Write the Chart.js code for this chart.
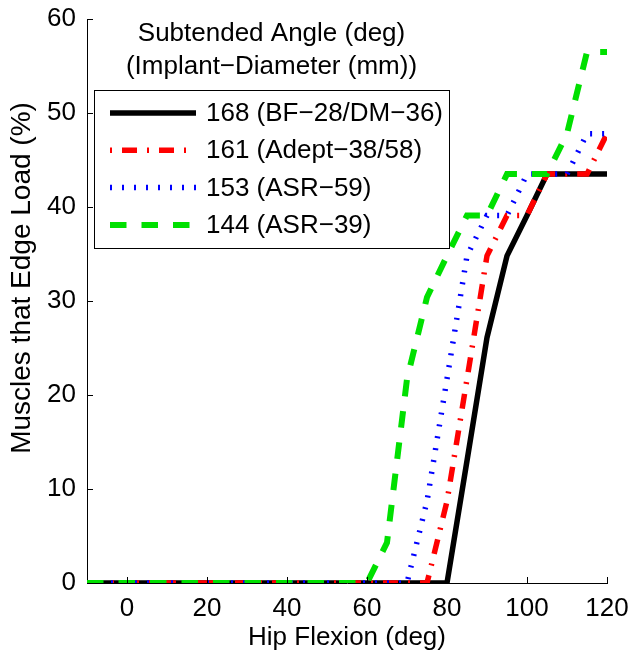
<!DOCTYPE html>
<html>
<head>
<meta charset="utf-8">
<script src="https://cdn.jsdelivr.net/npm/chart.js@4"></script>
<style>
  body { margin: 0; background: #fff; }
  canvas { display: block; }
</style>
</head>
<body>
<canvas id="chart" width="629" height="651"></canvas>
<script>
// hip flexion angle (deg), sampled every 5 deg
const hipFlexion = [-10, -5, 0, 5, 10, 15, 20, 25, 30, 35, 40, 45, 50, 55,
  60, 65, 70, 75, 80, 85, 90, 95, 100, 105, 110, 115, 120];

// % of muscles that edge load, one array per implant
const angle168 = [0, 0, 0, 0, 0, 0, 0, 0, 0, 0, 0, 0, 0, 0,
  0, 0, 0, 0, 0, 13.0, 26.1, 34.8, 39.1, 43.5, 43.5, 43.5, 43.5];
const angle161 = [0, 0, 0, 0, 0, 0, 0, 0, 0, 0, 0, 0, 0, 0,
  0, 0, 0, 0, 8.7, 21.7, 34.8, 39.1, 39.1, 43.5, 43.5, 43.5, 47.8];
const angle153 = [0, 0, 0, 0, 0, 0, 0, 0, 0, 0, 0, 0, 0, 0,
  0, 0, 0, 8.7, 21.7, 34.8, 39.1, 39.1, 43.5, 43.5, 43.5, 47.8, 47.8];
const angle144 = [0, 0, 0, 0, 0, 0, 0, 0, 0, 0, 0, 0, 0, 0,
  0, 4.3, 21.7, 30.4, 34.8, 39.1, 39.1, 43.5, 43.5, 43.5, 47.8, 56.5, 56.5];

const seriesLabels = ["168 (BF\u221228/DM\u221236)", "161 (Adept\u221238/58)", "153 (ASR\u221259)", "144 (ASR\u221239)"];
const legendTitle = ["Subtended Angle (deg)", "(Implant\u2212Diameter (mm))"];
const xTitle = "Hip Flexion (deg)";
const yTitle = "Muscles that Edge Load (%)";
const xTicks = [0, 20, 40, 60, 80, 100, 120];
const yTicks = [0, 10, 20, 30, 40, 50, 60];

const FONT = "'Liberation Sans', Arial, Helvetica, sans-serif";
Chart.defaults.font.family = FONT;
Chart.defaults.color = "#000";

const seriesValues = [angle168, angle161, angle153, angle144];
const lineStyles = [
  { color: "#000000", width: 5.5, dash: [], order: 4 },
  { color: "#ff0000", width: 5.5, dash: [15, 10, 2, 10], order: 3 },
  { color: "#0000ff", width: 5.5, dash: [2, 10], order: 2 },
  { color: "#00e000", width: 6, dash: [16.5, 15], order: 1 },
];

const datasets = seriesValues.map((vals, i) => ({
  label: seriesLabels[i],
  data: hipFlexion.map((x, j) => ({ x: x, y: vals[j] })),
  borderColor: lineStyles[i].color,
  borderWidth: lineStyles[i].width,
  borderDash: lineStyles[i].dash,
  borderCapStyle: "butt",
  borderJoinStyle: "miter",
  pointRadius: 0,
  tension: 0,
  fill: false,
  order: lineStyles[i].order,
}));

// matlab style ticks pointing into the plot
const insideTicks = {
  id: "insideTicks",
  afterDraw(chart) {
    const { ctx, chartArea: a, scales } = chart;
    ctx.save();
    ctx.strokeStyle = "#000";
    ctx.lineWidth = 1;
    ctx.beginPath();
    xTicks.forEach((v) => {
      const px = Math.round(scales.x.getPixelForValue(v)) + 0.5;
      ctx.moveTo(px, a.bottom);
      ctx.lineTo(px, a.bottom - 6);
    });
    yTicks.forEach((v) => {
      const py = Math.round(scales.y.getPixelForValue(v)) + 0.5;
      ctx.moveTo(a.left, py);
      ctx.lineTo(a.left + 6, py);
    });
    ctx.stroke();

    // y label sits a bit above the middle of the axis in the original
    ctx.font = "28px " + FONT;
    ctx.fillStyle = "#000";
    ctx.textAlign = "center";
    ctx.textBaseline = "middle";
    ctx.translate(22, a.top + 259);
    ctx.rotate(-Math.PI / 2);
    ctx.fillText(yTitle, 0, 0);
    ctx.restore();
  },
};

// legend box with its title sitting above it
const boxedLegend = {
  id: "boxedLegend",
  afterDraw(chart) {
    const { ctx, chartArea: a } = chart;
    const left = a.left + 7, top = a.top + 71, w = 355, h = 158;
    ctx.save();
    ctx.font = "26px " + FONT;
    ctx.fillStyle = "#000";
    ctx.textAlign = "center";
    ctx.textBaseline = "middle";
    legendTitle.forEach((t, i) => ctx.fillText(t, left + w / 2, a.top + 15 + i * 33));

    ctx.fillStyle = "#fff";
    ctx.fillRect(left, top, w, h);
    ctx.strokeStyle = "#000";
    ctx.lineWidth = 1;
    ctx.strokeRect(left + 0.5, top + 0.5, w, h);

    chart.data.datasets.forEach((ds, i) => {
      const yy = top + 23 + i * 37.3;
      ctx.strokeStyle = ds.borderColor;
      ctx.lineWidth = ds.borderWidth;
      ctx.lineCap = "butt";
      ctx.setLineDash(ds.borderDash);
      ctx.lineDashOffset = i === 1 ? 25 : 0;
      ctx.beginPath();
      ctx.moveTo(left + 16, yy);
      ctx.lineTo(left + 102, yy);
      ctx.stroke();
      ctx.setLineDash([]);
      ctx.fillStyle = "#000";
      ctx.textAlign = "left";
      ctx.fillText(ds.label, left + 112, yy + 1);
    });
    ctx.restore();
  },
};

new Chart(document.getElementById("chart"), {
  type: "line",
  data: { datasets: datasets },
  options: {
    responsive: false,
    animation: false,
    devicePixelRatio: 1,
    events: [],
    layout: { padding: { left: 0, right: 22, top: 19, bottom: 0 } },
    plugins: { legend: { display: false }, tooltip: { enabled: false } },
    scales: {
      x: {
        type: "linear",
        min: -10,
        max: 120,
        afterBuildTicks: (s) => { s.ticks = xTicks.map((value) => ({ value })); },
        afterFit: (s) => { s.height = 68; s.paddingLeft = 0; s.paddingRight = 0; },
        grid: { display: false, drawTicks: false },
        border: { display: true, color: "#000", width: 1 },
        ticks: { color: "#000", font: { size: 26 }, padding: 10, maxRotation: 0, autoSkip: false },
        title: { display: true, text: xTitle, color: "#000", font: { size: 26 }, padding: { top: 0, bottom: -2 } },
      },
      y: {
        type: "linear",
        min: 0,
        max: 60,
        afterBuildTicks: (s) => { s.ticks = yTicks.map((value) => ({ value })); },
        afterFit: (s) => { s.width = 87; s.paddingTop = 0; s.paddingBottom = 0; },
        grid: { display: false, drawTicks: false },
        border: { display: true, color: "#000", width: 1 },
        ticks: { color: "#000", font: { size: 26 }, padding: 11 },
      },
    },
  },
  plugins: [insideTicks, boxedLegend],
});
</script>
</body>
</html>
